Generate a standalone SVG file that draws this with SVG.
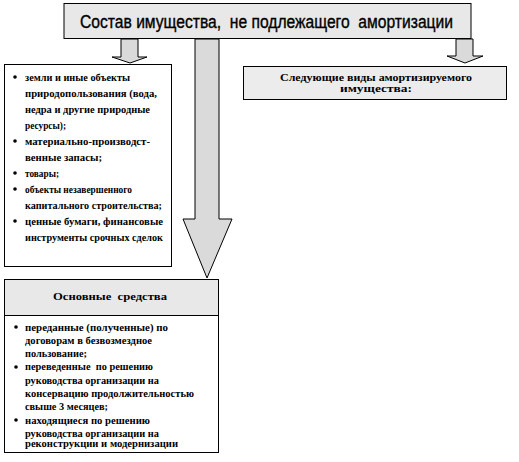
<svg xmlns="http://www.w3.org/2000/svg" width="519" height="462" viewBox="0 0 519 462">
<style>
.box{stroke:#000;stroke-width:1}
.arrow{fill:#dadada;stroke:#000;stroke-width:1;stroke-linejoin:miter}
.t{font-family:"Liberation Serif","Times New Roman",serif;font-weight:bold;font-size:10.5px;fill:#000;white-space:pre}
.h{font-family:"Liberation Sans",Arial,sans-serif;font-size:17.5px;fill:#000;stroke:#000;stroke-width:0.35;white-space:pre}
.b{fill:#000}
</style>
<rect width="519" height="462" fill="#fff"/>
<g id="connectors">
<polygon class="arrow" points="121,39 138,39 138,57 147,57 130,63 112,57 121,57"/>
<polygon class="arrow" points="456,39 473,39 473,56 483,56 465,63 447,56 456,56"/>
<polygon class="arrow" points="195,39 219,39 219,219 232,219 207,278 183,219 195,219"/>
</g>
<g id="top">
<rect class="box" x="64" y="3.5" width="407" height="35" fill="#e8e8e8"/>
<text class="h" x="80" y="27.5" textLength="373" lengthAdjust="spacingAndGlyphs">Состав имущества,  не подлежащего  амортизации</text>
</g>
<g id="left">
<rect class="box" x="4.5" y="64.5" width="167" height="202" fill="#fff"/>
<circle class="b" cx="15" cy="77" r="1.8"/>
<circle class="b" cx="15" cy="141" r="1.8"/>
<circle class="b" cx="15" cy="173" r="1.8"/>
<circle class="b" cx="15" cy="189" r="1.8"/>
<circle class="b" cx="15" cy="221" r="1.8"/>
<text class="t" x="25" y="80.5" textLength="105" lengthAdjust="spacingAndGlyphs">земли и иные объекты</text>
<text class="t" x="25" y="96.5" textLength="132" lengthAdjust="spacingAndGlyphs">природопользования (вода,</text>
<text class="t" x="25" y="112.5" textLength="125" lengthAdjust="spacingAndGlyphs">недра и другие природные</text>
<text class="t" x="25" y="128.5" textLength="41" lengthAdjust="spacingAndGlyphs">ресурсы);</text>
<text class="t" x="25" y="144.5" textLength="125" lengthAdjust="spacingAndGlyphs">материально-производст-</text>
<text class="t" x="25" y="160.5" textLength="77" lengthAdjust="spacingAndGlyphs">венные запасы;</text>
<text class="t" x="25" y="176.5" textLength="34" lengthAdjust="spacingAndGlyphs">товары;</text>
<text class="t" x="25" y="192.5" textLength="107" lengthAdjust="spacingAndGlyphs">объекты незавершенного</text>
<text class="t" x="25" y="208.5" textLength="137" lengthAdjust="spacingAndGlyphs">капитального строительства;</text>
<text class="t" x="25" y="224.5" textLength="138" lengthAdjust="spacingAndGlyphs">ценные бумаги, финансовые</text>
<text class="t" x="25" y="240.5" textLength="138" lengthAdjust="spacingAndGlyphs">инструменты срочных сделок</text>
</g>
<g id="right">
<rect class="box" x="243.5" y="66.5" width="263" height="33" fill="#ececec"/>
<text class="t" x="280" y="81" textLength="192" lengthAdjust="spacingAndGlyphs">Следующие виды амортизируемого</text>
<text class="t" x="340" y="92" textLength="72" lengthAdjust="spacingAndGlyphs">имущества:</text>
</g>
<g id="bottom">
<rect class="box" x="4.5" y="279.5" width="214" height="173" fill="#fff"/>
<rect class="box" x="4.5" y="279.5" width="214" height="36" fill="#e8e8e8"/>
<text class="t" x="53" y="300" textLength="114" lengthAdjust="spacingAndGlyphs">Основные  средства</text>
<circle class="b" cx="16" cy="327" r="1.8"/>
<circle class="b" cx="16" cy="367" r="1.8"/>
<circle class="b" cx="16" cy="420" r="1.8"/>
<text class="t" x="25" y="330.5" textLength="143" lengthAdjust="spacingAndGlyphs">переданные (полученные) по</text>
<text class="t" x="25" y="343.8" textLength="127" lengthAdjust="spacingAndGlyphs">договорам в безвозмездное</text>
<text class="t" x="25" y="357.1" textLength="62" lengthAdjust="spacingAndGlyphs">пользование;</text>
<text class="t" x="25" y="370.4" textLength="128" lengthAdjust="spacingAndGlyphs">переведенные  по решению</text>
<text class="t" x="25" y="383.7" textLength="134" lengthAdjust="spacingAndGlyphs">руководства организации на</text>
<text class="t" x="25" y="397" textLength="169" lengthAdjust="spacingAndGlyphs">консервацию продолжительностью</text>
<text class="t" x="25" y="410.3" textLength="83" lengthAdjust="spacingAndGlyphs">свыше 3 месяцев;</text>
<text class="t" x="25" y="423.6" textLength="125" lengthAdjust="spacingAndGlyphs">находящиеся по решению</text>
<text class="t" x="25" y="436.9" textLength="134" lengthAdjust="spacingAndGlyphs">руководства организации на</text>
<text class="t" x="25" y="447" textLength="153" lengthAdjust="spacingAndGlyphs">реконструкции и модернизации</text>
</g>
</svg>
